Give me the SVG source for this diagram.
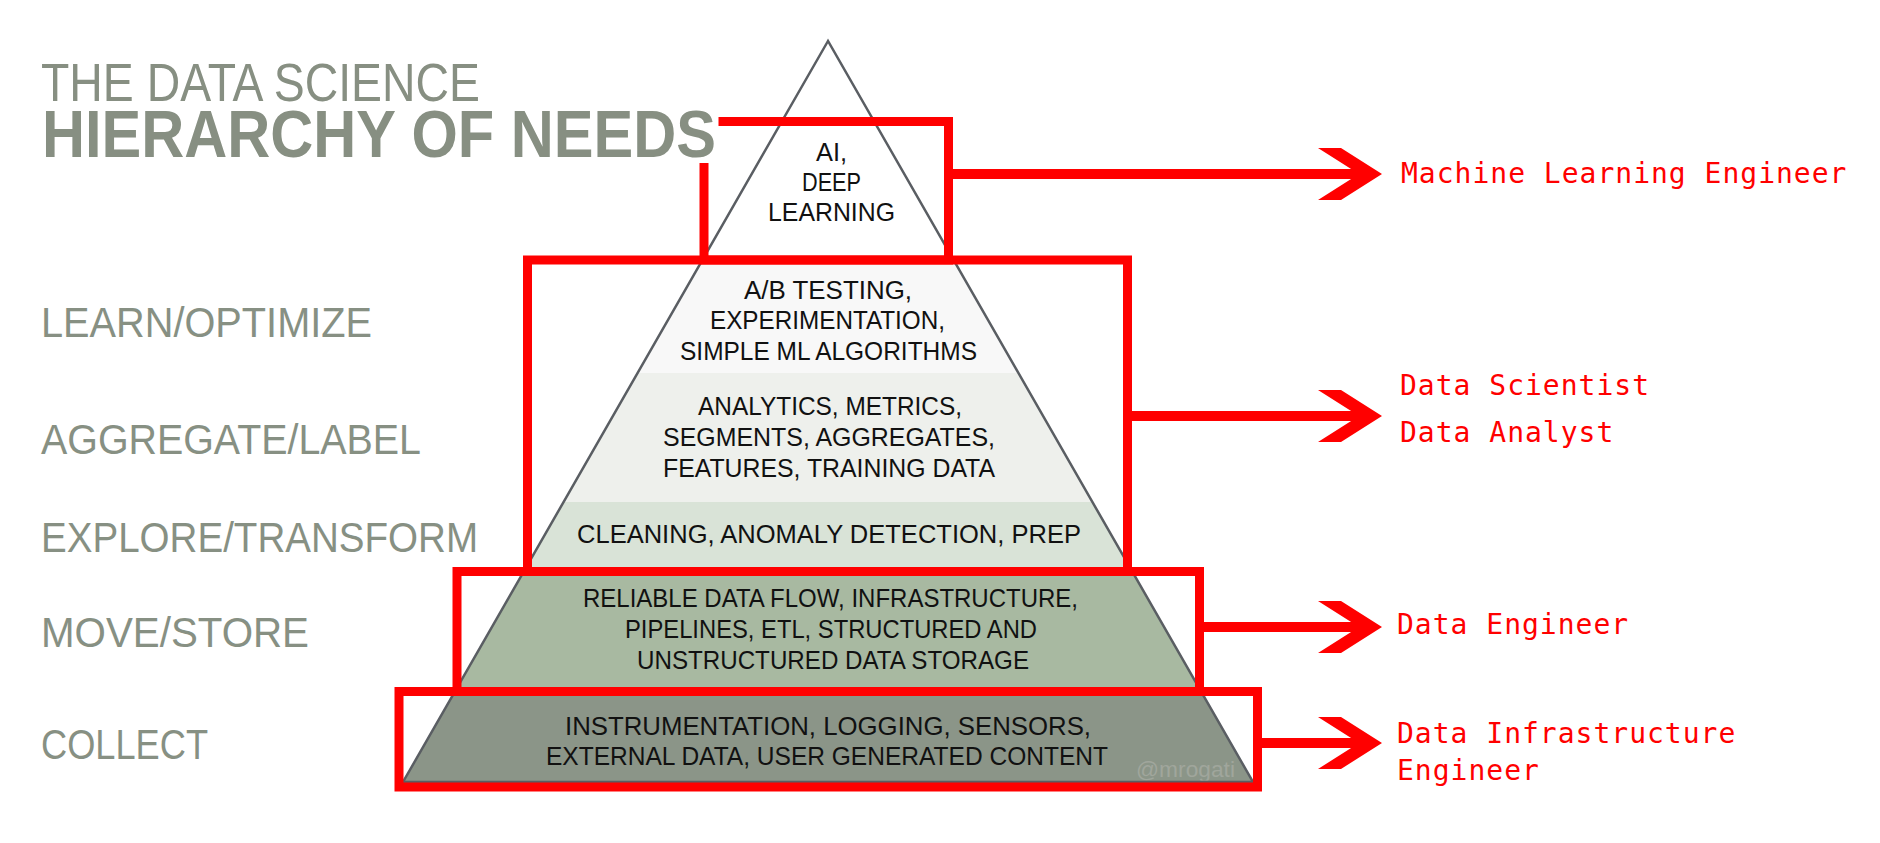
<svg xmlns="http://www.w3.org/2000/svg" width="1880" height="843" viewBox="0 0 1880 843">
<defs>
<style>
.ttl{font-family:"Liberation Sans",Arial,sans-serif;fill:#878f82}
.stage{font-family:"Liberation Sans",Arial,sans-serif;font-size:42px;fill:#879083}
.lt{font-family:"Liberation Sans",Arial,sans-serif;font-size:25px;fill:#111111}
.box{fill:none;stroke:#ff0000;stroke-width:9;stroke-linejoin:miter;stroke-linecap:square}
.conn{stroke:#ff0000;stroke-width:10;fill:none}
.role{font-family:"DejaVu Sans Mono","Liberation Mono",monospace;font-size:28px;letter-spacing:1px;fill:#ff0000}
.edge{fill:none;stroke:#5a5e63;stroke-width:2.5;stroke-linejoin:miter}
</style>
<marker id="chev" markerUnits="userSpaceOnUse" viewBox="-50 -30 80 60" markerWidth="80" markerHeight="60" refX="0" refY="0" orient="auto">
<polygon points="-42,-26 -19,-26 22,0 -19,26 -42,26 -1,0" fill="#ff0000"/>
</marker>
</defs>
<rect width="1880" height="843" fill="#ffffff"/>

<g id="title">
<text class="ttl" x="41" y="101" font-size="53" textLength="439" lengthAdjust="spacingAndGlyphs">THE DATA SCIENCE</text>
<text class="ttl" x="42" y="157" font-size="66" font-weight="bold" textLength="674" lengthAdjust="spacingAndGlyphs">HIERARCHY OF NEEDS</text>
</g>

<g id="stage-labels">
<text id="stage-learn" class="stage" x="41" y="337" textLength="331" lengthAdjust="spacingAndGlyphs">LEARN/OPTIMIZE</text>
<text id="stage-aggregate" class="stage" x="41" y="454" textLength="380" lengthAdjust="spacingAndGlyphs">AGGREGATE/LABEL</text>
<text id="stage-explore" class="stage" x="41" y="552" textLength="437" lengthAdjust="spacingAndGlyphs">EXPLORE/TRANSFORM</text>
<text id="stage-move" class="stage" x="41" y="647" textLength="268" lengthAdjust="spacingAndGlyphs">MOVE/STORE</text>
<text id="stage-collect" class="stage" x="41" y="759" textLength="167" lengthAdjust="spacingAndGlyphs">COLLECT</text>
</g>

<g id="pyramid">
<g id="layer-ai">
<polygon points="828,41 702.4,260 953.6,260" fill="#ffffff"/>
<text class="lt" x="816" y="161" textLength="31" lengthAdjust="spacingAndGlyphs">AI,</text>
<text class="lt" x="802" y="191" textLength="59" lengthAdjust="spacingAndGlyphs">DEEP</text>
<text class="lt" x="768" y="221" textLength="127" lengthAdjust="spacingAndGlyphs">LEARNING</text>
</g>
<g id="layer-ab">
<polygon points="702.4,260 953.6,260 1018.4,373 637.6,373" fill="#f8f8f8"/>
<text class="lt" x="744" y="299" textLength="168" lengthAdjust="spacingAndGlyphs">A/B TESTING,</text>
<text class="lt" x="710" y="329" textLength="235" lengthAdjust="spacingAndGlyphs">EXPERIMENTATION,</text>
<text class="lt" x="680" y="360" textLength="297" lengthAdjust="spacingAndGlyphs">SIMPLE ML ALGORITHMS</text>
</g>
<g id="layer-analytics">
<polygon points="637.6,373 1018.4,373 1092.4,502 563.6,502" fill="#eef0ec"/>
<text class="lt" x="698" y="415" textLength="264" lengthAdjust="spacingAndGlyphs">ANALYTICS, METRICS,</text>
<text class="lt" x="663" y="446" textLength="332" lengthAdjust="spacingAndGlyphs">SEGMENTS, AGGREGATES,</text>
<text class="lt" x="663" y="477" textLength="332" lengthAdjust="spacingAndGlyphs">FEATURES, TRAINING DATA</text>
</g>
<g id="layer-cleaning">
<polygon points="563.6,502 1092.4,502 1132,571 524,571" fill="#d9e3d7"/>
<text class="lt" x="577" y="543" textLength="504" lengthAdjust="spacingAndGlyphs">CLEANING, ANOMALY DETECTION, PREP</text>
</g>
<g id="layer-dataflow">
<polygon points="524,571 1132,571 1201.3,692 454.7,692" fill="#a8b9a1"/>
<text class="lt" x="583" y="607" textLength="495" lengthAdjust="spacingAndGlyphs">RELIABLE DATA FLOW, INFRASTRUCTURE,</text>
<text class="lt" x="625" y="638" textLength="412" lengthAdjust="spacingAndGlyphs">PIPELINES, ETL, STRUCTURED AND</text>
<text class="lt" x="637" y="669" textLength="392" lengthAdjust="spacingAndGlyphs">UNSTRUCTURED DATA STORAGE</text>
</g>
<g id="layer-collect">
<polygon points="454.7,692 1201.3,692 1253,782 403,782" fill="#8b9588"/>
<text class="lt" x="565" y="735" textLength="526" lengthAdjust="spacingAndGlyphs">INSTRUMENTATION, LOGGING, SENSORS,</text>
<text class="lt" x="546" y="765" textLength="562" lengthAdjust="spacingAndGlyphs">EXTERNAL DATA, USER GENERATED CONTENT</text>
<text x="1136" y="777" font-family="Liberation Sans,Arial,sans-serif" font-size="22" fill="#a0a69c" textLength="99" lengthAdjust="spacingAndGlyphs">@mrogati</text>
</g>
<polygon class="edge" points="828,41 403,782 1253,782"/>
</g>

<g id="role-boxes">
<path id="box-ml" class="box" d="M723,121.5 H948.5 V260 H704 V167.5"/>
<rect id="box-ds" class="box" x="527.5" y="260" width="600" height="311.5"/>
<rect id="box-de" class="box" x="457" y="571.5" width="742.5" height="120"/>
<rect id="box-infra" class="box" x="399" y="691.5" width="858.5" height="95.5"/>
</g>

<g id="connectors">
<line class="conn" x1="953" y1="174" x2="1360" y2="174" marker-end="url(#chev)"/>
<line class="conn" x1="1132" y1="416" x2="1360" y2="416" marker-end="url(#chev)"/>
<line class="conn" x1="1204" y1="627" x2="1360" y2="627" marker-end="url(#chev)"/>
<line class="conn" x1="1262" y1="743" x2="1360" y2="743" marker-end="url(#chev)"/>
</g>

<g id="roles">
<g id="role-ml"><text class="role" x="1401" y="183">Machine Learning Engineer</text></g>
<g id="role-ds"><text class="role" x="1400" y="395">Data Scientist</text><text class="role" x="1400" y="442">Data Analyst</text></g>
<g id="role-de"><text class="role" x="1397" y="634">Data Engineer</text></g>
<g id="role-infra"><text class="role" x="1397" y="743">Data Infrastructure</text><text class="role" x="1397" y="780">Engineer</text></g>
</g>
</svg>
